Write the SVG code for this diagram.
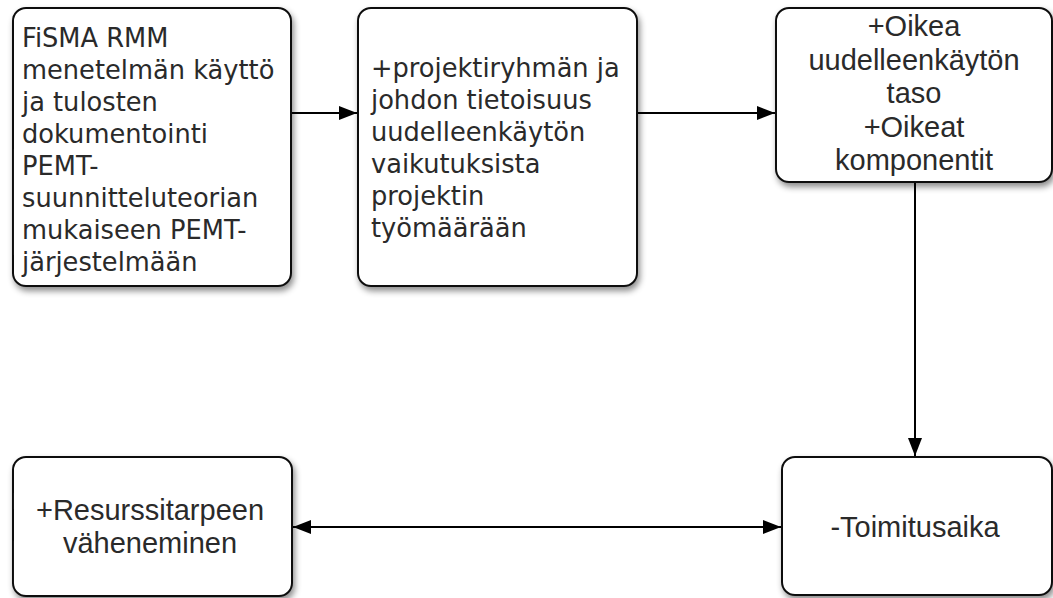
<svg xmlns="http://www.w3.org/2000/svg" width="1053" height="598" viewBox="0 0 1053 598">
<style>
.box{fill:#fff;stroke:#111;stroke-width:2;filter:url(#sh)}
.lg{font-family:"DejaVu Sans",sans-serif;font-size:25.7px;fill:#2a2a2a}
.hv{font-family:"Liberation Sans",Arial,sans-serif;font-size:29px;fill:#2a2a2a;text-anchor:middle}
.con{stroke:#000;stroke-width:2;fill:none}
</style>
<defs>
<filter id="sh" x="-10%" y="-10%" width="125%" height="125%">
<feDropShadow dx="2" dy="4" stdDeviation="3" flood-color="#000" flood-opacity="0.45"/>
</filter>
<marker id="ah" viewBox="0 0 18 14" refX="18" refY="7" markerWidth="18" markerHeight="14" markerUnits="userSpaceOnUse" orient="auto-start-reverse">
<path d="M0,0 L18,7 L0,14 z" fill="#000"/>
</marker>
</defs>
<g id="connectors">
<line class="con" x1="291" y1="113" x2="357" y2="113" marker-end="url(#ah)"/>
<line class="con" x1="637" y1="113" x2="775" y2="113" marker-end="url(#ah)"/>
<line class="con" x1="915" y1="182" x2="915" y2="456" marker-end="url(#ah)"/>
<line class="con" x1="293" y1="527" x2="781" y2="527" marker-start="url(#ah)" marker-end="url(#ah)"/>
</g>
<g id="node1">
<rect class="box" x="13" y="8" width="278" height="278" rx="13"/>
<text class="lg" x="22"><tspan x="22" y="47">FiSMA RMM</tspan><tspan x="22" y="79">menetelmän käyttö</tspan><tspan x="22" y="111">ja tulosten</tspan><tspan x="22" y="143">dokumentointi</tspan><tspan x="22" y="175">PEMT-</tspan><tspan x="22" y="207">suunnitteluteorian</tspan><tspan x="22" y="239">mukaiseen PEMT-</tspan><tspan x="22" y="271">järjestelmään</tspan></text>
</g>
<g id="node2">
<rect class="box" x="358" y="8" width="279" height="278" rx="13"/>
<text class="lg"><tspan x="371" y="77">+projektiryhmän ja</tspan><tspan x="371" y="109">johdon tietoisuus</tspan><tspan x="371" y="141">uudelleenkäytön</tspan><tspan x="371" y="173">vaikutuksista</tspan><tspan x="371" y="205">projektin</tspan><tspan x="371" y="237">työmäärään</tspan></text>
</g>
<g id="node3">
<rect class="box" x="776" y="8" width="276" height="174" rx="13"/>
<text class="hv"><tspan x="914" y="36">+Oikea</tspan><tspan x="914" y="69.5">uudelleenkäytön</tspan><tspan x="914" y="103">taso</tspan><tspan x="914" y="136.5">+Oikeat</tspan><tspan x="914" y="170">komponentit</tspan></text>
</g>
<g id="node4">
<rect class="box" x="13" y="457" width="279" height="139" rx="13"/>
<text class="hv"><tspan x="150" y="520">+Resurssitarpeen</tspan><tspan x="150" y="553">väheneminen</tspan></text>
</g>
<g id="node5">
<rect class="box" x="782" y="457" width="270" height="138" rx="13"/>
<text class="hv" x="915" y="537">-Toimitusaika</text>
</g>
</svg>
